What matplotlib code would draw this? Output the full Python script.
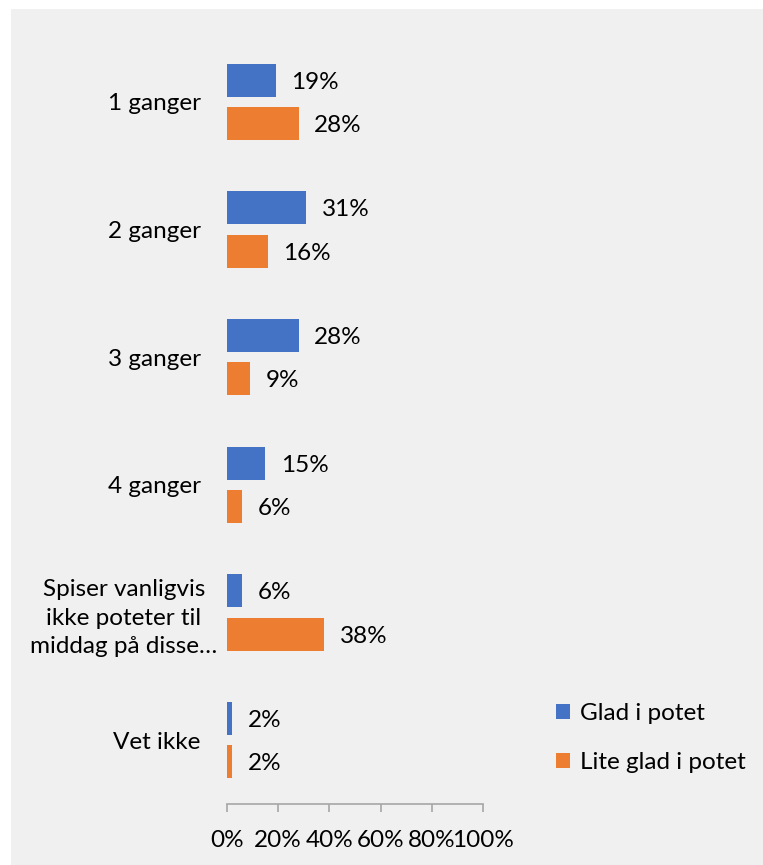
import matplotlib.pyplot as plt
from matplotlib.patches import Rectangle
from matplotlib.transforms import ScaledTranslation

categories = ["1 ganger", "2 ganger", "3 ganger", "4 ganger",
              "Spiser vanligvis\nikke poteter til\nmiddag på disse…", "Vet ikke"]
glad = [19, 31, 28, 15, 6, 2]
lite_glad = [28, 16, 9, 6, 38, 2]
series_names = ["Glad i potet", "Lite glad i potet"]
xticks = [0, 20, 40, 60, 80, 100]
xtick_labels = ["0%", "20%", "40%", "60%", "80%", "100%"]

blue = "#4472C4"
orange = "#ED7D31"
bg = "#F0F0F0"
fs = 17.5

plt.rcParams['font.family'] = ['Lato', 'DejaVu Sans']

fig = plt.figure(figsize=(7.63, 8.65), dpi=100)
fig.patch.set_facecolor("white")
# grå bakgrunn som i originalen
fig.patches.append(Rectangle((11 / 763, 0), 1, 1 - 9 / 865, transform=fig.transFigure,
                             facecolor=bg, edgecolor="none", zorder=-10))

ax = fig.add_axes([227 / 763, 1 - 804 / 865, 256 / 763, (804 - 38) / 865])
ax.set_facecolor("none")

pos = list(range(len(categories)))
h = 0.26
off = 0.17
b1 = ax.barh([p - off for p in pos], glad, height=h, color=blue, label=series_names[0])
b2 = ax.barh([p + off for p in pos], lite_glad, height=h, color=orange, label=series_names[1])

for bars, vals in [(b1, glad), (b2, lite_glad)]:
    for bar, v in zip(bars, vals):
        ax.annotate(f"{v}%", (bar.get_width(), bar.get_y() + bar.get_height() / 2),
                    xytext=(11, -1.5), textcoords="offset points",
                    ha="left", va="center", fontsize=fs, color="black")

ax.set_ylim(len(categories) - 0.5, -0.5)
ax.set_xlim(0, 100)
ax.set_yticks(pos)
ax.set_yticklabels(categories, fontsize=fs, multialignment="center", linespacing=1.45)
ax.tick_params(axis="y", length=0, pad=19)
ax.set_xticks(xticks)
ax.set_xticklabels(xtick_labels, fontsize=fs)
ax.tick_params(axis="x", length=6, width=1.2, color="#A6A6A6", pad=13, direction="out")

# den lange etiketten står litt lenger til høyre i originalen
lbl = ax.get_yticklabels()[4]
lbl.set_transform(lbl.get_transform() + ScaledTranslation(0.17, 0, fig.dpi_scale_trans))

for s in ["top", "right", "left"]:
    ax.spines[s].set_visible(False)
ax.spines["bottom"].set_color("#A6A6A6")
ax.spines["bottom"].set_linewidth(1.2)

fig.legend(handles=[b1, b2], labels=series_names, loc="center left",
           bbox_to_anchor=(534 / 763, 1 - 738 / 865), frameon=False, fontsize=fs,
           handlelength=0.6, handleheight=0.6, handletextpad=0.4, labelspacing=1.15)

fig.savefig("out.png", dpi=100, facecolor=fig.get_facecolor())
